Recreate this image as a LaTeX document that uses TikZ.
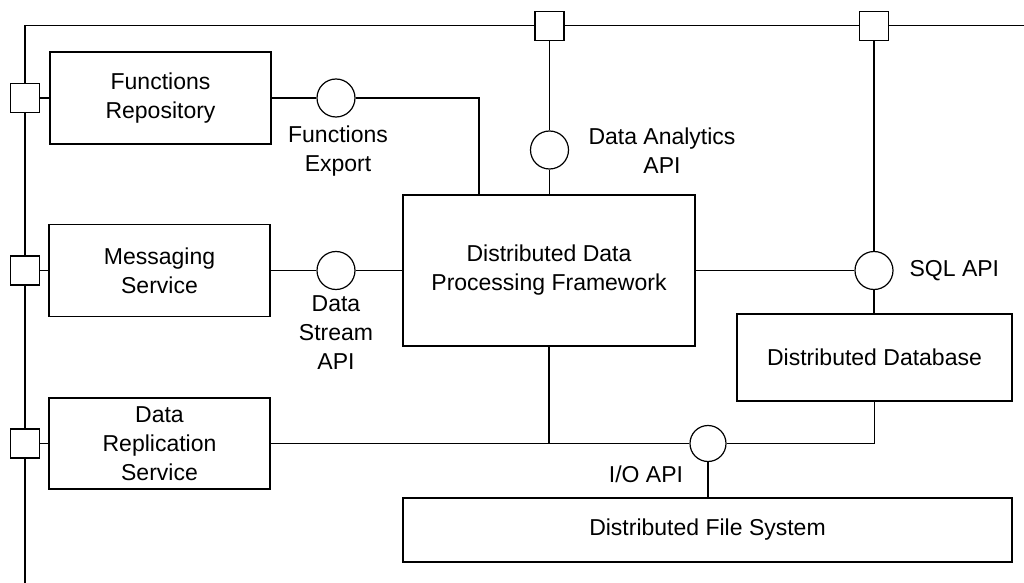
\documentclass[tikz,border=0pt]{standalone}
\usepackage{fontspec}
\setmainfont{Liberation Sans}
\begin{document}
\begin{tikzpicture}[x=0.5pt,y=-0.5pt,line width=0.6pt,
  every node/.style={font=\fontsize{11.5pt}{14.5pt}\selectfont},
  comp/.style={draw,rectangle,align=center,inner sep=0pt},
  port/.style={draw,rectangle,fill=white,minimum width=14.5pt,minimum height=14.5pt,inner sep=0pt},
  iface/.style={draw,circle,fill=white,minimum size=19pt,inner sep=0pt},
  lbl/.style={align=center,inner sep=0pt}]
\useasboundingbox (0,0) rectangle (1024,583);

% outer boundary of the system
\coordinate (bTL) at (25,25.5);
\coordinate (bTR) at (1024,25.5);
\coordinate (bBL) at (25,583);
\draw (bTR) -- (bTL) -- (bBL);

% ports on the boundary
\node[port] (pT1) at (549.5,26) {};
\node[port] (pT2) at (874,26) {};
\node[port] (pL1) at (25,98) {};
\node[port] (pL2) at (25,270.5) {};
\node[port] (pL3) at (25,443.5) {};

% components
\node[comp,minimum width=110.5pt,minimum height=46pt] (fr) at (160.5,98) {Functions\\Repository};
\node[comp,minimum width=110.5pt,minimum height=46pt] (ms) at (159.5,270.5) {Messaging\\Service};
\node[comp,minimum width=110.5pt,minimum height=45.5pt] (drs) at (159.5,443.5) {Data\\Replication\\Service};
\node[comp,minimum width=146pt,minimum height=75.5pt] (ddpf) at (549,270.5) {Distributed Data\\Processing Framework};
\node[comp,minimum width=137.5pt,minimum height=43.5pt] (ddb) at (874.5,357.5) {Distributed Database};
\node[comp,minimum width=304.5pt,minimum height=32pt] (dfs) at (707.5,530) {Distributed File System};

% provided interfaces
\node[iface] (fe) at (336,98) {};
\node[iface] (dsa) at (336,270.5) {};
\node[iface] (daa) at (549.5,150) {};
\node[iface] (sql) at (874,270.5) {};
\node[iface,minimum size=18pt] (io) at (708,443.5) {};

% interface labels
\node[lbl] (feL) at (338,151) {Functions\\Export};
\node[lbl] (dsaL) at (336,333) {Data\\Stream\\API};
\node[lbl] (daaL) at (662,151) {Data Analytics\\API};
\node[lbl,anchor=west] (sqlL) at (909,271) {SQL API};
\node[lbl] (ioL) at (646,474) {I/O API};

% connectors
\coordinate (feIn) at (479,195);
\draw (pL1.east) -- (fr.west);
\draw (fr.east) -- (fe.west);
\draw (fe.east) -| (feIn);

\draw (pL2.east) -- (ms.west);
\draw (ms.east) -- (dsa.west);
\draw (dsa.east) -- (ddpf.west);

\draw (pT1.south) -- (daa.north);
\draw (daa.south) -- (daa.south |- ddpf.north);

\draw (pT2.south) -- (sql.north);
\draw (ddpf.east) -- (sql.west);
\draw (sql.south) -- (sql.south |- ddb.north);

\draw (pL3.east) -- (drs.west);
\draw (drs.east) -- (io.west);
\draw (ddpf.south) -- (ddpf.south |- io.west);
\draw (io.east) -| (ddb.south);
\draw (io.south) -- (io.south |- dfs.north);
\end{tikzpicture}
\end{document}
